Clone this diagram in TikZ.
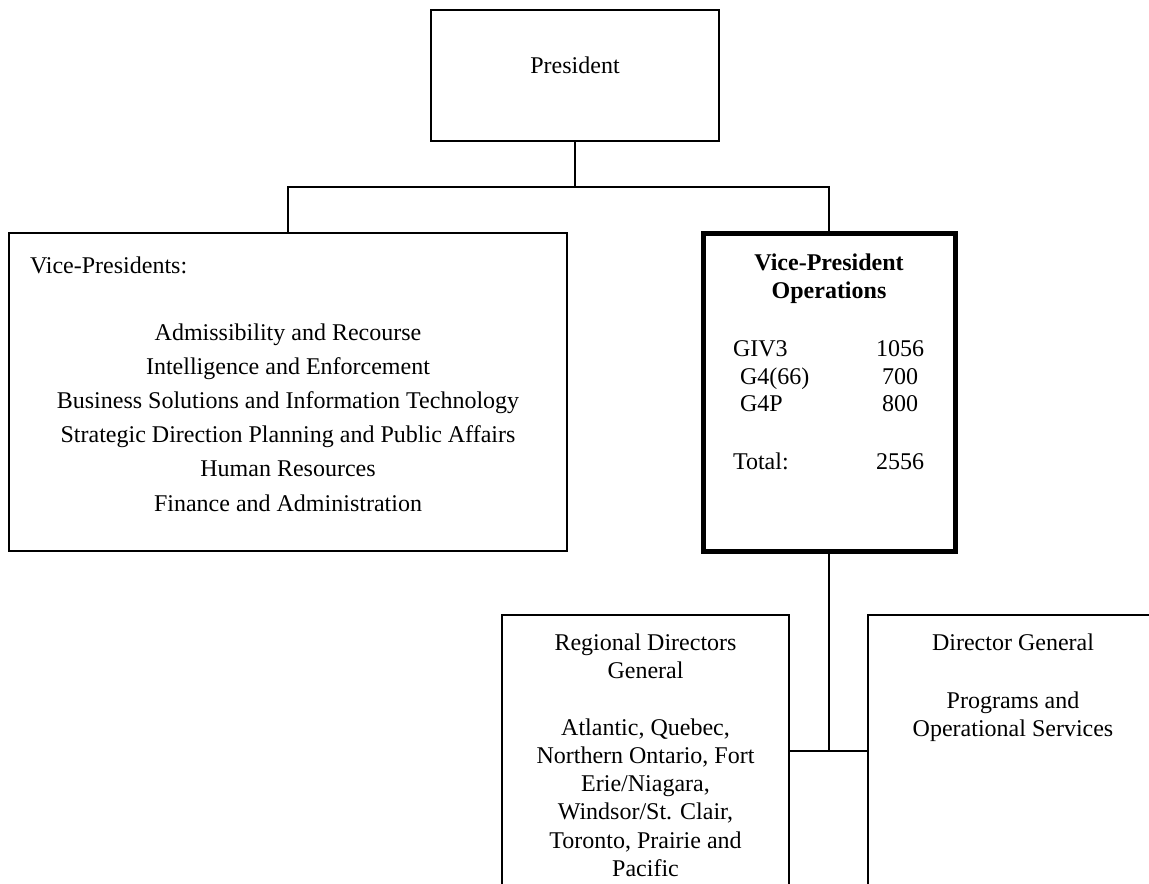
\documentclass[tikz,border=0pt]{standalone}
\usepackage{fontspec}
\setmainfont{Liberation Serif}
\begin{document}
\begin{tikzpicture}[x=0.75pt,y=-0.75pt,
  box/.style={draw,line width=1.5pt,rectangle,inner sep=0pt,outer sep=0pt},
  thickbox/.style={draw,line width=3.75pt,rectangle,inner sep=0pt,outer sep=0pt},
  conn/.style={line width=1.5pt},
  txt/.style={inner sep=0pt,outer sep=0pt,anchor=base,font=\fontsize{18}{21}\selectfont},
  txtl/.style={txt,anchor=base west},
  txtb/.style={txt,font=\fontsize{18}{21}\selectfont\bfseries}]
\useasboundingbox (0,0) rectangle (1149,883);
\clip (0,0) rectangle (1149,883);

% boxes
\node[box,minimum width=216pt,minimum height=98.25pt] (pres) at (575,75.5) {};
\node[box,minimum width=418.5pt,minimum height=238.5pt] (vps) at (288,392) {};
\node[thickbox,minimum width=189pt,minimum height=238.5pt] (ops) at (829,392) {};
\node[box,minimum width=215.25pt,minimum height=210pt] (rdg) at (645.5,755) {};
\node[box,minimum width=219pt,minimum height=210pt] (dg) at (1014,755) {};

% connectors
\coordinate (j1) at (575,187);
\coordinate (j2) at (829,751);
\draw[conn] (pres.south) -- (j1);
\draw[conn] (vps.north) -- (vps.north |- j1) -- (ops.north |- j1) -- (ops.north);
\draw[conn] (ops.south) -- (j2);
\draw[conn] (rdg.east |- j2) -- (dg.west |- j2);

% President
\node[txt] (tpres) at (575,73) {President};

% Vice-Presidents
\node[txtl] (tvp) at (30,273) {Vice-Presidents:};
\node[txt] (v1) at (288,340) {Admissibility and Recourse};
\node[txt] (v2) at (288,374.2) {Intelligence and Enforcement};
\node[txt] (v3) at (288,408.4) {Business Solutions and Information Technology};
\node[txt] (v4) at (288,442.6) {Strategic Direction Planning and Public Affairs};
\node[txt] (v5) at (288,476.8) {Human Resources};
\node[txt] (v6) at (288,511) {Finance and Administration};

% VP Operations
\node[txtb] (o1) at (829,270) {Vice-President};
\node[txtb] (o2) at (829,298) {Operations};
\node[txtl] (g1) at (733,356) {GIV3};
\node[txtl] (g2) at (740,384) {G4(66)};
\node[txtl] (g3) at (740,411) {G4P};
\node[txtl] (g4) at (733,469) {Total:};
\node[txt] (n1) at (900,356) {1056};
\node[txt] (n2) at (900,384) {700};
\node[txt] (n3) at (900,411) {800};
\node[txt] (n4) at (900,469) {2556};

% Regional Directors General
\node[txt] (r1) at (645.5,650) {Regional Directors};
\node[txt] (r2) at (645.5,678.3) {General};
\node[txt] (r3) at (645.5,735) {Atlantic, Quebec,};
\node[txt] (r4) at (645.5,763.2) {Northern Ontario, Fort};
\node[txt] (r5) at (645.5,791.5) {Erie/Niagara,};
\node[txt] (r6) at (645.5,819.8) {Windsor/St. Clair,};
\node[txt] (r7) at (645.5,848) {Toronto, Prairie and};
\node[txt] (r8) at (645.5,876.4) {Pacific};

% Director General
\node[txt] (d1) at (1013,650) {Director General};
\node[txt] (d2) at (1013,708) {Programs and};
\node[txt] (d3) at (1013,736) {Operational Services};
\end{tikzpicture}
\end{document}
